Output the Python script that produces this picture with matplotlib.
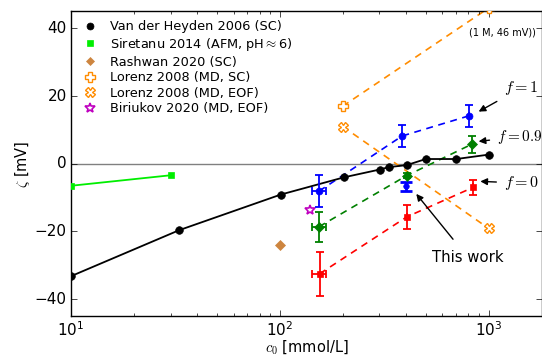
import matplotlib
matplotlib.use("Agg")
import matplotlib.pyplot as plt
from matplotlib.lines import Line2D
import numpy as np

plt.style.use('classic')
plt.rcParams['mathtext.fontset'] = 'cm'
plt.rcParams['font.family'] = ['DejaVu Sans']
plt.rcParams['figure.facecolor'] = 'white'
plt.rcParams['savefig.facecolor'] = 'white'

# ---- data ----
vdh_c = [10, 33, 101, 203, 301, 332, 405, 500, 700, 1000]
vdh_z = [-33.2, -19.6, -9.1, -4.0, -1.7, -1.0, -0.4, 1.4, 1.4, 2.7]

sir_c = [10, 30]
sir_z = [-6.5, -3.4]

rash_c = [100]
rash_z = [-24.1]

lor_sc_c = [200, 1000]
lor_sc_z = [17.0, 46.0]

lor_eof_c = [200, 1000]
lor_eof_z = [11.0, -19.1]

bir_c = [140]
bir_z = [-13.8]

f1_c = [154, 385, 809]
f1_z = [-8.1, 8.2, 14.2]
f1_err = [4.7, 3.2, 3.2]

f09_c = [154, 405, 832]
f09_z = [-18.6, -3.5, 5.8]
f09_err = [4.5, 0.8, 2.5]

f0_c = [155, 405, 841]
f0_z = [-32.5, -15.7, -7.0]
f0_err = [6.5, 3.5, 2.3]

xerr_first = 12

tw_c = [404]
tw_z = [-6.7]
tw_err = [1.3]

fig = plt.figure(figsize=(5.42, 3.56), dpi=100)
ax = fig.add_axes([0.131, 0.112, 0.869, 0.856])

ax.axhline(0, color='gray', lw=1, zorder=1)

# literature
ax.plot(vdh_c, vdh_z, '-', color='k', lw=1.3, zorder=3)
ax.plot(vdh_c, vdh_z, 'o', color='k', mec='k', ms=5.5, zorder=4)
ax.plot(sir_c, sir_z, '-', color='#00ee00', lw=1.3, zorder=3)
ax.plot(sir_c, sir_z, 's', color='#00ee00', mec='#00ee00', ms=5, zorder=4)
ax.plot(rash_c, rash_z, 'D', color='#cd853f', mec='#cd853f', ms=5, zorder=4)
orange = '#ff8c00'
ax.plot(lor_sc_c, lor_sc_z, '--', color=orange, lw=1.2, dashes=(5, 4), zorder=2)
ax.plot(lor_sc_c, lor_sc_z, 'P', mfc='white', mec=orange, mew=1.0, ms=7, zorder=4)
ax.plot(lor_eof_c, lor_eof_z, '--', color=orange, lw=1.2, dashes=(5, 4), zorder=2)
ax.plot(lor_eof_c, lor_eof_z, 'X', mfc='white', mec=orange, mew=1.0, ms=7, zorder=4)
ax.plot(bir_c, bir_z, '*', mfc='white', mec='m', mew=1.2, ms=7, zorder=4)

# this work
for c, z, e, col, mk in [(f1_c, f1_z, f1_err, 'b', 'o'),
                         (f09_c, f09_z, f09_err, 'g', 'D'),
                         (f0_c, f0_z, f0_err, 'r', 's')]:
    ax.plot(c, z, '--', color=col, lw=1.2, dashes=(5, 4), zorder=2)
    xe = [xerr_first, 0, 0]
    ax.errorbar(c, z, yerr=e, xerr=xe, fmt=mk, color=col, mec=col, ms=5,
                ecolor=col, elinewidth=1.3, capsize=3, capthick=1.3, zorder=5)
ax.errorbar(tw_c, tw_z, yerr=tw_err, fmt='o', color='b', mec='b', ms=4,
            ecolor='b', elinewidth=2, capsize=4, capthick=2, zorder=5)

ax.set_xscale('log')
ax.set_xlim(10, 1800)
ax.set_ylim(-45, 45)
ax.set_yticks([-40, -20, 0, 20, 40])
ax.tick_params(labelsize=11, pad=3)
ax.set_xlabel(r'$c_0$ [mmol/L]', fontsize=10.5)
ax.set_ylabel(r'$\zeta$ [mV]', fontsize=10.5)
ax.xaxis.set_label_coords(0.5, -0.103)
ax.xaxis.label.set_va('center')
ax.yaxis.set_label_coords(-0.102, 0.5)
ax.yaxis.label.set_va('center')

ax.text(802, 38.8, '(1 M, 46 mV))', fontsize=7, ha='left', va='center')

arrow = dict(arrowstyle='-|>', color='k', lw=1, mutation_scale=10, shrinkA=3, shrinkB=0)
ax.annotate(r'$f = 1$', xy=(895, 15.4), xytext=(1181, 22.4), fontsize=11.5,
            arrowprops=arrow, va='center', ha='left')
ax.annotate(r'$f = 0.9$', xy=(895, 6.6), xytext=(1095, 8.0), fontsize=11,
            arrowprops=arrow, va='center', ha='left')
ax.annotate(r'$f = 0$', xy=(912, -5.2), xytext=(1181, -5.7), fontsize=11.5,
            arrowprops=arrow, va='center', ha='left')
ax.annotate('This work', xy=(450, -8.9), xytext=(795, -27.7), fontsize=10.7,
            arrowprops=dict(arrowstyle='-|>', color='k', lw=1, mutation_scale=10,
                            shrinkA=7, shrinkB=0),
            va='center', ha='center')

handles = [
    Line2D([], [], ls='none', marker='o', color='k', mec='k', ms=5),
    Line2D([], [], ls='none', marker='s', color='#00ee00', mec='#00ee00', ms=5),
    Line2D([], [], ls='none', marker='D', color='#cd853f', mec='#cd853f', ms=4.5),
    Line2D([], [], ls='none', marker='P', mfc='white', mec=orange, mew=1.0, ms=6.5),
    Line2D([], [], ls='none', marker='X', mfc='white', mec=orange, mew=1.0, ms=6.5),
    Line2D([], [], ls='none', marker='*', mfc='white', mec='m', mew=1.2, ms=7),
]
labels = ['Van der Heyden 2006 (SC)', r'Siretanu 2014 (AFM, pH$\approx$6)',
          'Rashwan 2020 (SC)', 'Lorenz 2008 (MD, SC)', 'Lorenz 2008 (MD, EOF)',
          'Biriukov 2020 (MD, EOF)']
ax.legend(handles, labels, loc='upper left', frameon=False, fontsize=9.3,
          numpoints=1, handlelength=1.5, handletextpad=0.8, labelspacing=0.2,
          borderaxespad=0.3)

fig.savefig('out.png', dpi=100)
